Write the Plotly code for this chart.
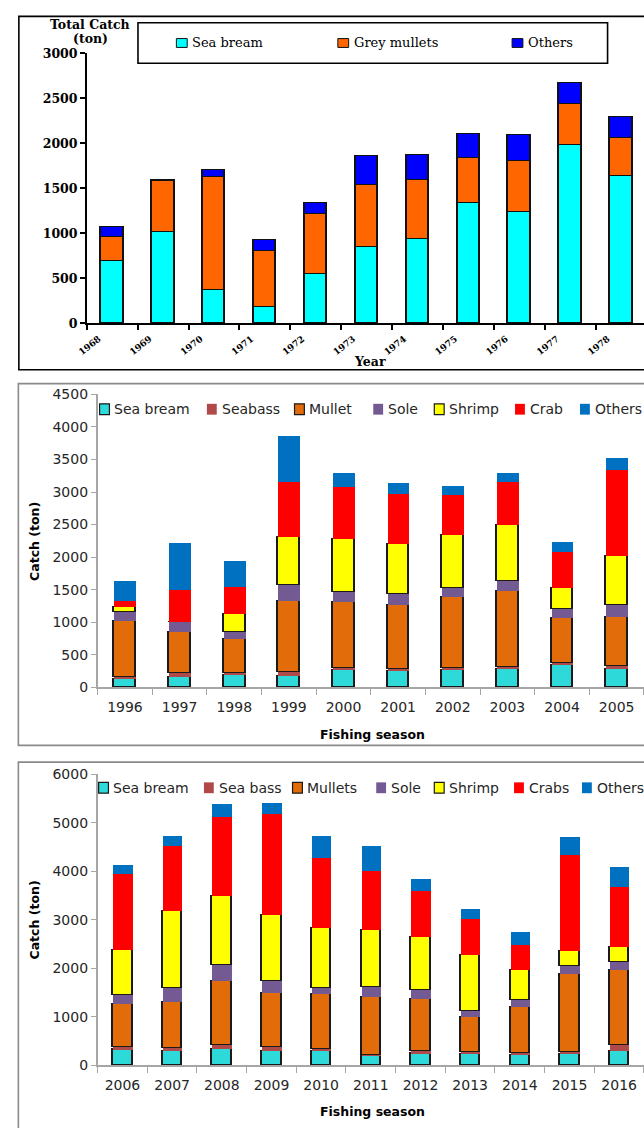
import plotly.graph_objects as go

W, H = 644, 1128

# ---------------- Panel 1 data (1968-1978) ----------------
years_1 = ["1968", "1969", "1970", "1971", "1972", "1973", "1974", "1975", "1976", "1977", "1978"]
series_1_names = ["Sea bream", "Grey mullets", "Others"]
sea_bream_1 = [693, 1010, 365, 182, 540, 846, 937, 1331, 1232, 1980, 1633]
grey_mullets_1 = [266, 569, 1257, 620, 674, 685, 649, 499, 569, 459, 423]
others_1 = [106, 14, 84, 124, 120, 321, 281, 270, 284, 233, 233]
y_ticks_1 = [0, 500, 1000, 1500, 2000, 2500, 3000]

# ---------------- Panel 2 data (1996-2005) ----------------
seasons_2 = ["1996", "1997", "1998", "1999", "2000", "2001", "2002", "2003", "2004", "2005"]
series_2_names = ["Sea bream", "Seabass", "Mullet", "Sole", "Shrimp", "Crab", "Others"]
sea_bream_2 = [122, 148, 184, 163, 255, 245, 260, 270, 337, 281]
seabass_2 = [36, 61, 35, 72, 36, 31, 31, 31, 25, 40]
mullet_2 = [852, 628, 511, 1076, 1010, 984, 1092, 1173, 699, 756]
sole_2 = [143, 163, 107, 256, 158, 169, 132, 148, 138, 173]
shrimp_2 = [66, 0, 275, 738, 816, 765, 821, 860, 327, 762]
crab_2 = [97, 495, 419, 850, 789, 769, 617, 663, 552, 1325]
others_2 = [312, 719, 400, 697, 217, 171, 136, 141, 141, 182]

# ---------------- Panel 3 data (2006-2016) ----------------
seasons_3 = ["2006", "2007", "2008", "2009", "2010", "2011", "2012", "2013", "2014", "2015", "2016"]
series_3_names = ["Sea bream", "Sea bass", "Mullets", "Sole", "Shrimp", "Crabs", "Others"]
sea_bream_3 = [327, 286, 327, 286, 286, 197, 245, 231, 211, 224, 293]
sea_bass_3 = [40, 68, 81, 88, 47, 14, 41, 34, 41, 48, 115]
mullets_3 = [892, 952, 1320, 1116, 1136, 1197, 1088, 735, 938, 1603, 1562]
sole_3 = [197, 286, 330, 243, 122, 203, 170, 122, 150, 176, 149]
shrimp_3 = [914, 1577, 1429, 1354, 1226, 1172, 1096, 1153, 630, 305, 318]
crabs_3 = [1564, 1354, 1625, 2092, 1455, 1212, 942, 738, 515, 1970, 1226]
others_3 = [196, 203, 277, 224, 447, 528, 264, 210, 257, 380, 426]

# ---------------- styles ----------------
colors_1 = ["#00FFFF", "#FF6600", "#0000FF"]
colors_23 = ["#2ED9D9", "#B04A4A", "#E36C0A", "#735A93", "#FFFF00", "#FF0000", "#0070C0"]
outlined_23 = [True, False, True, False, True, False, False]

SERIF = "DejaVu Serif"
SANS = "DejaVu Sans"


def fx(px):
    """page pixel x -> paper fraction"""
    return px / W


def fy(py):
    """page pixel y -> paper fraction"""
    return 1 - py / H


fig = go.Figure()

# Panel 1 bars
x_pos_1 = [i + 0.5 for i in range(len(years_1))]
for name, vals, col in zip(series_1_names, [sea_bream_1, grey_mullets_1, others_1], colors_1):
    fig.add_trace(go.Bar(x=x_pos_1, y=vals, name=name, width=0.44,
                         marker=dict(color=col, line=dict(color="#111111", width=1.3)),
                         xaxis="x", yaxis="y", showlegend=False))

# Panel 2 bars
for name, vals, col, ol in zip(series_2_names,
                               [sea_bream_2, seabass_2, mullet_2, sole_2, shrimp_2, crab_2, others_2],
                               colors_23, outlined_23):
    fig.add_trace(go.Bar(x=seasons_2, y=vals, name=name, width=0.4,
                         marker=dict(color=col, line=dict(color="#1a1a1a", width=1.2 if ol else 0)),
                         xaxis="x2", yaxis="y2", showlegend=False))

# Panel 3 bars
for name, vals, col, ol in zip(series_3_names,
                               [sea_bream_3, sea_bass_3, mullets_3, sole_3, shrimp_3, crabs_3, others_3],
                               colors_23, outlined_23):
    fig.add_trace(go.Bar(x=seasons_3, y=vals, name=name, width=0.39,
                         marker=dict(color=col, line=dict(color="#1a1a1a", width=1.2 if ol else 0)),
                         xaxis="x3", yaxis="y3", showlegend=False))

shapes = []
annotations = []

# Frames
shapes.append(dict(type="rect", xref="paper", yref="paper", x0=fx(9), x1=fx(660), y0=fy(367), y1=fy(8.5),
                   line=dict(color="#000000", width=1.6), fillcolor="rgba(0,0,0,0)", layer="below"))
shapes.append(dict(type="rect", xref="paper", yref="paper", x0=fx(8.5), x1=fx(660), y0=fy(748), y1=fy(381),
                   line=dict(color="#8a8a8a", width=1.6), fillcolor="rgba(0,0,0,0)", layer="below"))
shapes.append(dict(type="rect", xref="paper", yref="paper", x0=fx(8.5), x1=fx(660), y0=fy(1140), y1=fy(765),
                   line=dict(color="#8a8a8a", width=1.6), fillcolor="rgba(0,0,0,0)", layer="below"))

# Panel 1 legend (box + items)
shapes.append(dict(type="rect", xref="paper", yref="paper", x0=fx(130), x1=fx(607), y0=fy(56), y1=fy(15),
                   line=dict(color="#000000", width=1.6), fillcolor="white"))
leg1_x = [169, 333, 510]
for name, col, lx in zip(series_1_names, colors_1, leg1_x):
    shapes.append(dict(type="rect", xref="paper", yref="paper", x0=fx(lx), x1=fx(lx + 11),
                       y0=fy(40), y1=fy(31), fillcolor=col, line=dict(color="#111111", width=1)))
    annotations.append(dict(text=name, xref="paper", yref="paper", x=fx(lx + 14), y=fy(35.5),
                            xanchor="left", yanchor="middle", showarrow=False,
                            font=dict(family=SERIF, size=13, color="#000")))

annotations.append(dict(text="<b>Total Catch</b>", xref="paper", yref="paper", x=fx(81), y=fy(17),
                        xanchor="center", yanchor="middle", showarrow=False,
                        font=dict(family=SERIF, size=12.5, color="#000")))
annotations.append(dict(text="<b>(ton)</b>", xref="paper", yref="paper", x=fx(82), y=fy(31),
                        xanchor="center", yanchor="middle", showarrow=False,
                        font=dict(family=SERIF, size=12.5, color="#000")))
annotations.append(dict(text="<b>Year</b>", xref="paper", yref="paper", x=fx(366), y=fy(359),
                        xanchor="center", yanchor="middle", showarrow=False,
                        font=dict(family=SERIF, size=12.5, color="#000")))

# Panels 2 & 3 legends
leg2_x = [91, 200, 289, 369, 431, 513, 579]
leg3_x = [90, 197, 287, 372, 431, 512, 581]
for names, lxs, ly in [(series_2_names, leg2_x, 407), (series_3_names, leg3_x, 791)]:
    for name, col, ol, lx in zip(names, colors_23, outlined_23, lxs):
        shapes.append(dict(type="rect", xref="paper", yref="paper", x0=fx(lx), x1=fx(lx + 10),
                           y0=fy(ly + 5.5), y1=fy(ly - 5.5), fillcolor=col,
                           line=dict(color="#1a1a1a", width=1.2 if ol else 0)))
        annotations.append(dict(text=name, xref="paper", yref="paper", x=fx(lx + 13), y=fy(ly),
                                xanchor="left", yanchor="middle", showarrow=False,
                                font=dict(family=SANS, size=14, color="#262626")))

for ty, cy in [(737, 541), (1119, 925)]:
    annotations.append(dict(text="<b>Fishing season</b>", xref="paper", yref="paper", x=fx(368), y=fy(ty),
                            xanchor="center", yanchor="middle", showarrow=False,
                            font=dict(family=SANS, size=12.5, color="#000")))
    annotations.append(dict(text="<b>Catch (ton)</b>", xref="paper", yref="paper", x=fx(25), y=fy(cy),
                            xanchor="center", yanchor="middle", showarrow=False, textangle=-90,
                            font=dict(family=SANS, size=12.5, color="#000")))

tick_font_23 = dict(family=SANS, size=14, color="#262626")

fig.update_layout(
    width=W, height=H,
    margin=dict(l=0, r=0, t=0, b=0),
    paper_bgcolor="white", plot_bgcolor="white",
    barmode="stack", bargap=0,
    shapes=shapes, annotations=annotations,
    xaxis=dict(domain=[fx(78), 1], range=[0, (644 - 78) / 51.7], anchor="y",
               tickvals=list(range(len(years_1))), ticktext=years_1, tickangle=-38,
               ticks="outside", ticklen=5, tickwidth=1.5, tickcolor="#000",
               showline=True, linecolor="#000", linewidth=1.6, showgrid=False, zeroline=False,
               ticklabelshift=12, ticklabelstandoff=0,
               tickfont=dict(family=SERIF, size=9, color="#000", weight="bold")),
    yaxis=dict(domain=[fy(320), fy(46)], range=[0, 3000], anchor="x",
               tickvals=y_ticks_1, ticks="outside", ticklen=5, tickwidth=1.5, tickcolor="#000",
               showline=True, linecolor="#000", linewidth=1.6, showgrid=False, zeroline=False,
               tickfont=dict(family=SERIF, size=12.5, color="#000", weight="bold")),
    xaxis2=dict(domain=[fx(89), 1], type="category", categoryorder="array", categoryarray=seasons_2,
                range=[-0.5, len(seasons_2) - 0.5], anchor="y2", tickson="boundaries",
                ticks="outside", ticklen=6, tickcolor="#a6a6a6", tickwidth=1,
                showline=True, linecolor="#a6a6a6", linewidth=1.5, showgrid=False, zeroline=False,
                ticklabelstandoff=6, tickfont=tick_font_23),
    yaxis2=dict(domain=[fy(689), fy(392)], range=[0, 4500], dtick=500, anchor="x2",
                ticks="outside", ticklen=5, tickcolor="#a6a6a6", tickwidth=1,
                showline=True, linecolor="#a6a6a6", linewidth=1.5, showgrid=False, zeroline=False,
                tickfont=tick_font_23),
    xaxis3=dict(domain=[fx(89), 1], type="category", categoryorder="array", categoryarray=seasons_3,
                range=[-0.5, len(seasons_3) - 0.5], anchor="y3", tickson="boundaries",
                ticks="outside", ticklen=6, tickcolor="#a6a6a6", tickwidth=1,
                showline=True, linecolor="#a6a6a6", linewidth=1.5, showgrid=False, zeroline=False,
                ticklabelstandoff=6, tickfont=tick_font_23),
    yaxis3=dict(domain=[fy(1072.7), fy(777.3)], range=[0, 6000], dtick=1000, anchor="x3",
                ticks="outside", ticklen=5, tickcolor="#a6a6a6", tickwidth=1,
                showline=True, linecolor="#a6a6a6", linewidth=1.5, showgrid=False, zeroline=False,
                tickfont=tick_font_23),
)

fig.write_html("out.html", config={"displayModeBar": False},
               post_script="document.body.style.margin='0';document.body.style.overflow='hidden';")
